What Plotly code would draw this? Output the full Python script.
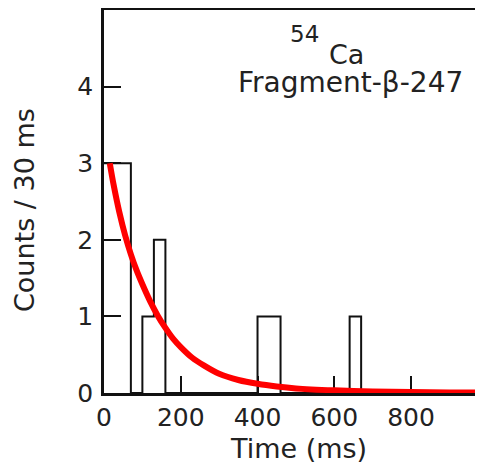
import plotly.graph_objects as go

# ---- data ----
# histogram: left edges of 30 ms bins and counts per bin
bin_left = [-20, 10, 40, 70, 100, 130, 160, 190, 220, 250, 280, 310,
            340, 370, 400, 430, 460, 490, 520, 550, 580, 610, 640, 670]
counts = [3, 3, 3, 0, 1, 2, 0, 0, 0, 0, 0, 0,
          0, 0, 1, 1, 0, 0, 0, 0, 0, 0, 1, 0]
bin_width = 30

# fitted decay curve
fit_t = [15, 25, 40, 55, 70, 85, 100, 120, 140, 160, 180, 200, 230, 260,
         300, 350, 400, 450, 500, 600, 700, 800, 900, 990]
fit_y = [3.0, 2.72, 2.36, 2.06, 1.81, 1.60, 1.42, 1.20, 1.01, 0.85, 0.71, 0.60,
         0.46, 0.36, 0.25, 0.17, 0.12, 0.085, 0.06, 0.035, 0.02, 0.012, 0.008, 0.006]

x_ticks = [0, 200, 400, 600, 800]
y_ticks = [0, 1, 2, 3, 4]

FONT = "DejaVu Sans"
OFF = 8                      # page body margin of the html page
W, H = 483 - OFF, 469 - OFF
L, R, T, B = 104 - OFF, 0, 2, H - (393 - OFF)

def px(xp):
    # screen x pixel -> paper coordinate
    return (xp - OFF - L) / (W - L - R)

def py(yp):
    # screen y pixel -> paper coordinate
    return (H - B - (yp - OFF)) / (H - T - B)

step_x = bin_left + [bin_left[-1] + bin_width]
step_y = counts + [0]

fig = go.Figure()
fig.add_trace(go.Scatter(x=step_x, y=step_y, mode="lines",
                         line=dict(shape="hv", color="#111111", width=2),
                         hoverinfo="skip", showlegend=False))
fig.add_trace(go.Scatter(x=fit_t, y=fit_y, mode="lines",
                         line=dict(shape="spline", smoothing=0.8,
                                   color="#ff0000", width=6),
                         showlegend=False))

txt = "#222222"
fig.update_layout(
    width=W, height=H,
    margin=dict(l=L, r=R, t=T, b=B),
    paper_bgcolor="white", plot_bgcolor="white",
    font=dict(family=FONT, color=txt, size=25),
    xaxis=dict(range=[0, 987.5], tickvals=x_ticks, ticks="inside", ticklen=17,
               tickwidth=2, tickcolor="#111111", showline=True, linewidth=2.5,
               linecolor="#111111", mirror=True, showgrid=False, zeroline=False,
               layer="below traces", ticklabelstandoff=0,
               tickfont=dict(family=FONT, size=25, color=txt)),
    yaxis=dict(range=[0, 5], tickvals=y_ticks, ticks="inside", ticklen=17,
               tickwidth=2, tickcolor="#111111", showline=True, linewidth=2.5,
               linecolor="#111111", mirror=False, showgrid=False, zeroline=False,
               layer="below traces", ticklabelstandoff=3,
               tickfont=dict(family=FONT, size=25, color=txt)),
    annotations=[
        dict(text="54", x=px(304), y=py(34), xref="paper", yref="paper",
             xanchor="center", yanchor="middle", showarrow=False, height=22,
             font=dict(family=FONT, size=23, color=txt)),
        dict(text="Ca", x=px(346), y=py(54), xref="paper", yref="paper",
             xanchor="center", yanchor="middle", showarrow=False, height=24,
             font=dict(family=FONT, size=27, color=txt)),
        dict(text="Fragment-β-247", x=px(350), y=py(82), xref="paper", yref="paper",
             xanchor="center", yanchor="middle", showarrow=False, height=34,
             font=dict(family=FONT, size=28, color=txt)),
        dict(text="Time (ms)", x=px(298), y=py(448), xref="paper", yref="paper",
             xanchor="center", yanchor="middle", showarrow=False,
             font=dict(family=FONT, size=27, color=txt)),
        dict(text="Counts / 30 ms", x=px(25), y=py(210), xref="paper", yref="paper",
             xanchor="center", yanchor="middle", textangle=-90, showarrow=False,
             font=dict(family=FONT, size=27, color=txt)),
    ],
)

fig.write_html("out.html")
